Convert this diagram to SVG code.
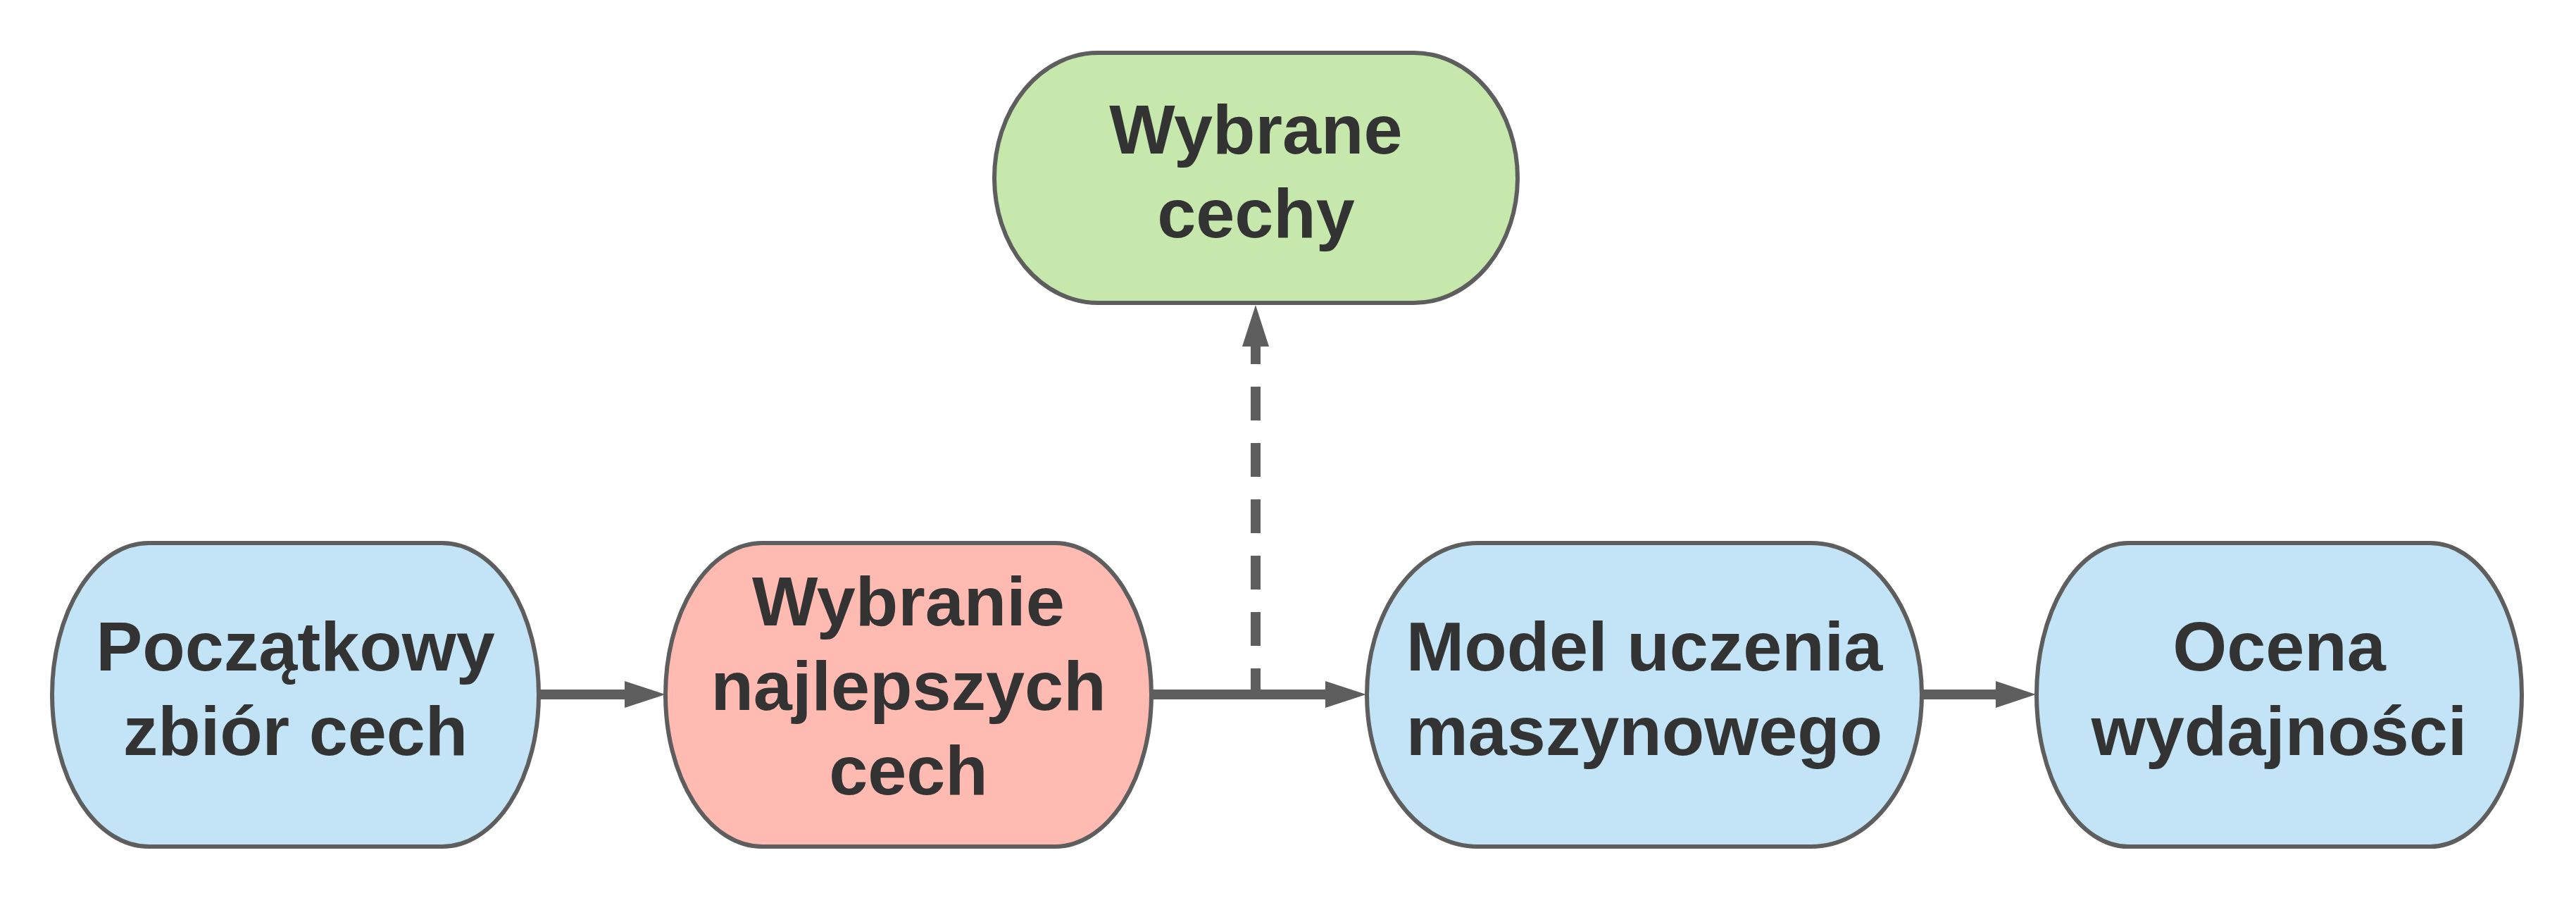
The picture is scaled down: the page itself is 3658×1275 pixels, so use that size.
<svg xmlns="http://www.w3.org/2000/svg" width="3658" height="1275" viewBox="0 0 3658 1275">
<style>
.node{stroke:#5e5e5e;stroke-width:6}
.blue{fill:#c3e4f6}
.red{fill:#ffbab1}
.green{fill:#c7e8ad}
.lbl{font-family:"Liberation Sans",Arial,sans-serif;font-weight:bold;font-size:99px;fill:#333333;text-anchor:middle}
.conn{stroke:#5e5e5e;stroke-width:14;fill:none}
.head{fill:#5e5e5e}
</style>
<rect width="3658" height="1275" fill="#ffffff"/>
<g id="connectors">
<line class="conn" x1="765" y1="986" x2="890" y2="986"/>
<polygon class="head" points="887,967 945,986 887,1005"/>
<line class="conn" x1="1635" y1="986" x2="1885" y2="986"/>
<polygon class="head" points="1882,967 1940,986 1882,1005"/>
<line class="conn" x1="2729" y1="986" x2="2837" y2="986"/>
<polygon class="head" points="2834,967 2891,986 2834,1005"/>
<line class="conn" x1="1783" y1="986" x2="1783" y2="490" stroke-dasharray="48 32" stroke-dashoffset="11"/>
<polygon class="head" points="1764,492 1783,433 1802,492"/>
</g>
<g id="node-poczatkowy">
<rect class="node blue" x="74" y="771" width="691" height="431" rx="137" ry="215.5"/>
<text class="lbl" x="419.5" y="952">Początkowy</text>
<text class="lbl" x="419.5" y="1072">zbiór cech</text>
</g>
<g id="node-wybranie">
<rect class="node red" x="945" y="771" width="690" height="431" rx="137" ry="215.5"/>
<text class="lbl" x="1290" y="888">Wybranie</text>
<text class="lbl" x="1290" y="1008">najlepszych</text>
<text class="lbl" x="1290" y="1128">cech</text>
</g>
<g id="node-model">
<rect class="node blue" x="1941" y="771" width="788" height="431" rx="157" ry="215.5"/>
<text class="lbl" x="2335" y="952">Model uczenia</text>
<text class="lbl" x="2335" y="1072">maszynowego</text>
</g>
<g id="node-ocena">
<rect class="node blue" x="2892" y="771" width="689" height="431" rx="130" ry="215.5"/>
<text class="lbl" x="3236.5" y="952">Ocena</text>
<text class="lbl" x="3236.5" y="1072">wydajności</text>
</g>
<g id="node-wybrane-cechy">
<rect class="node green" x="1412" y="75" width="743" height="355" rx="147" ry="177.5"/>
<text class="lbl" x="1783.5" y="218">Wybrane</text>
<text class="lbl" x="1783.5" y="337">cechy</text>
</g>
</svg>
